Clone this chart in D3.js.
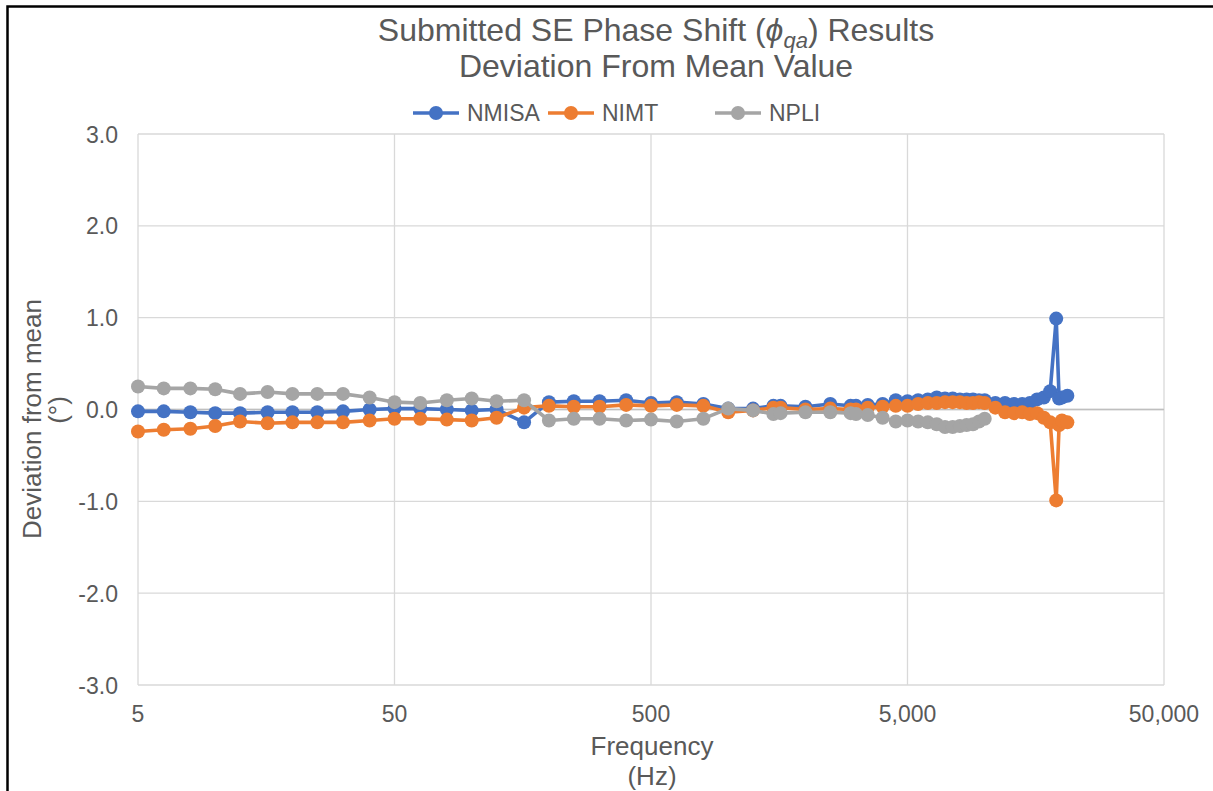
<!DOCTYPE html>
<html>
<head>
<meta charset="utf-8">
<title>SE Phase Shift deviation</title>
<style>
  body { margin: 0; background: #fff; }
  svg text { font-family: "Liberation Sans", Arial, sans-serif; fill: #595959; }
</style>
</head>
<body>
<svg id="viz" width="1213" height="791"></svg>
<script src="https://d3js.org/d3.v7.min.js"></script>
<script>

// frequencies (Hz)
var freq = [5, 6.3, 8, 10, 12.5, 16, 20, 25, 31.5, 40, 50, 63, 80, 100, 125, 160, 200, 250, 315, 400,
    500, 630, 800, 1000, 1250, 1500, 1600, 2000, 2500, 3000, 3150, 3500, 4000, 4500, 5000, 5500, 6000,
    6500, 7000, 7500, 8000, 8500, 9000, 9500, 10000, 11000, 12000, 13000, 14000, 15000, 16000, 17000,
    18000, 19000, 19500, 20000, 21000];

var nmisa = [-0.02, -0.02, -0.03, -0.04, -0.04, -0.03, -0.03, -0.03, -0.02, 0.00, 0.01, 0.01, 0.00, -0.01, 0.00,
    -0.14, 0.08, 0.09, 0.09, 0.10, 0.07, 0.08, 0.06, 0.01, 0.01, 0.04, 0.04, 0.03, 0.06, 0.04, 0.04, 0.05,
    0.06, 0.10, 0.09, 0.10, 0.11, 0.13, 0.12, 0.12, 0.11, 0.11, 0.11, 0.10, 0.10, 0.07, 0.07, 0.06, 0.06,
    0.07, 0.11, 0.13, 0.20, 0.99, 0.12, 0.13, 0.15];

var nimt = [-0.24, -0.22, -0.21, -0.18, -0.13, -0.15, -0.14, -0.14, -0.14, -0.12, -0.10, -0.10, -0.11, -0.12, -0.09,
    0.02, 0.04, 0.03, 0.03, 0.05, 0.04, 0.05, 0.04, -0.03, -0.01, 0.02, 0.02, 0.00, 0.01, 0.00, 0.00, 0.02,
    0.03, 0.04, 0.04, 0.06, 0.07, 0.07, 0.08, 0.08, 0.08, 0.07, 0.07, 0.08, 0.07, 0.02, -0.03, -0.04, -0.03,
    -0.05, -0.04, -0.09, -0.14, -0.99, -0.17, -0.12, -0.14];

// NPLI stops at 10 kHz
var npli = [0.25, 0.23, 0.23, 0.22, 0.17, 0.19, 0.17, 0.17, 0.17, 0.13, 0.08, 0.07, 0.10, 0.12, 0.09,
    0.10, -0.12, -0.10, -0.10, -0.12, -0.11, -0.13, -0.10, 0.01, -0.01, -0.05, -0.04, -0.03, -0.03, -0.04, -0.05, -0.06,
    -0.09, -0.13, -0.12, -0.13, -0.14, -0.16, -0.19, -0.19, -0.18, -0.17, -0.16, -0.13, -0.10];

var xTicks = [5, 50, 500, 5000, 50000];
var yTicks = [-3, -2, -1, 0, 1, 2, 3];

var series = [
    {name: "NMISA", values: nmisa, color: "#4472c4"},
    {name: "NIMT", values: nimt, color: "#ed7d31"},
    {name: "NPLI", values: npli, color: "#a5a5a5"}
];

var svg = d3.select("#viz");

// outer chart border (cropped on right / bottom)
svg.append("rect")
    .attr("x", 7.5).attr("y", 6.5)
    .attr("width", 1300).attr("height", 900)
    .attr("fill", "#fff")
    .attr("stroke", "#000")
    .attr("stroke-width", 2.5);

var plotL = 138, plotR = 1164, plotT = 134, plotB = 685;

var x = d3.scaleLog().domain([5, 50000]).range([plotL, plotR]);
var y = d3.scaleLinear().domain([-3, 3]).range([plotB, plotT]);

// gridlines
svg.append("g").selectAll("line")
    .data(yTicks)
    .enter().append("line")
    .attr("x1", plotL).attr("x2", plotR)
    .attr("y1", function(d) { return y(d); })
    .attr("y2", function(d) { return y(d); })
    .attr("stroke", "#d9d9d9")
    .attr("stroke-width", 1.3);

svg.append("g").selectAll("line")
    .data(xTicks)
    .enter().append("line")
    .attr("x1", function(d) { return x(d); })
    .attr("x2", function(d) { return x(d); })
    .attr("y1", plotT).attr("y2", plotB)
    .attr("stroke", "#d9d9d9")
    .attr("stroke-width", 1.3);

// horizontal axis line at zero
svg.append("line")
    .attr("x1", plotL).attr("x2", plotR)
    .attr("y1", y(0)).attr("y2", y(0))
    .attr("stroke", "#bfbfbf")
    .attr("stroke-width", 1.3);

// axis labels (plain hyphen for negatives, like Excel)
var fmtY = function(d) { return d3.format(".1f")(d).replace("\u2212", "-"); };
svg.append("g").selectAll("text")
    .data(yTicks)
    .enter().append("text")
    .attr("x", 118)
    .attr("y", function(d) { return y(d) + 8.5; })
    .attr("text-anchor", "end")
    .style("font-size", "23px")
    .text(fmtY);

var fmtX = d3.format(",");
svg.append("g").selectAll("text")
    .data(xTicks)
    .enter().append("text")
    .attr("x", function(d) { return x(d); })
    .attr("y", 722)
    .attr("text-anchor", "middle")
    .style("font-size", "23px")
    .text(function(d) { return fmtX(d); });

// lines + markers
var line = d3.line()
    .x(function(d, i) { return x(freq[i]); })
    .y(function(d) { return y(d); });

series.forEach(function(s) {
    var g = svg.append("g");
    g.append("path")
        .attr("d", line(s.values))
        .attr("fill", "none")
        .attr("stroke", s.color)
        .attr("stroke-width", 3.6)
        .attr("stroke-linejoin", "round");
    g.selectAll("circle")
        .data(s.values)
        .enter().append("circle")
        .attr("cx", function(d, i) { return x(freq[i]); })
        .attr("cy", function(d) { return y(d); })
        .attr("r", 7)
        .attr("fill", s.color);
});

// title
var title = svg.append("text")
    .attr("x", 656).attr("y", 41)
    .attr("text-anchor", "middle")
    .style("font-size", "32px");
title.append("tspan").text("Submitted SE Phase Shift (");
title.append("tspan").style("font-style", "italic").text("\u03D5");
title.append("tspan").style("font-style", "italic").style("font-size", "22px").attr("dy", 7).text("qa");
title.append("tspan").attr("dy", -7).text(") Results");

svg.append("text")
    .attr("x", 656).attr("y", 77)
    .attr("text-anchor", "middle")
    .style("font-size", "32px")
    .text("Deviation From Mean Value");

// legend
var legendX = [413, 548, 715];
series.forEach(function(s, i) {
    var lx = legendX[i];
    svg.append("line")
        .attr("x1", lx).attr("x2", lx + 46)
        .attr("y1", 113).attr("y2", 113)
        .attr("stroke", s.color).attr("stroke-width", 3.6);
    svg.append("circle")
        .attr("cx", lx + 23).attr("cy", 113).attr("r", 7)
        .attr("fill", s.color);
    svg.append("text")
        .attr("x", lx + 54).attr("y", 121)
        .style("font-size", "23px")
        .text(s.name);
});

// axis titles
svg.append("text")
    .attr("transform", "translate(41,419) rotate(-90)")
    .attr("text-anchor", "middle")
    .style("font-size", "26px")
    .text("Deviation from mean");
svg.append("text")
    .attr("transform", "translate(67,410) rotate(-90)")
    .attr("text-anchor", "middle")
    .style("font-size", "26px")
    .text("(\u00B0)");

svg.append("text")
    .attr("x", 652).attr("y", 755)
    .attr("text-anchor", "middle")
    .style("font-size", "26px")
    .text("Frequency");
svg.append("text")
    .attr("x", 652).attr("y", 785)
    .attr("text-anchor", "middle")
    .style("font-size", "26px")
    .text("(Hz)");

</script>
</body>
</html>
